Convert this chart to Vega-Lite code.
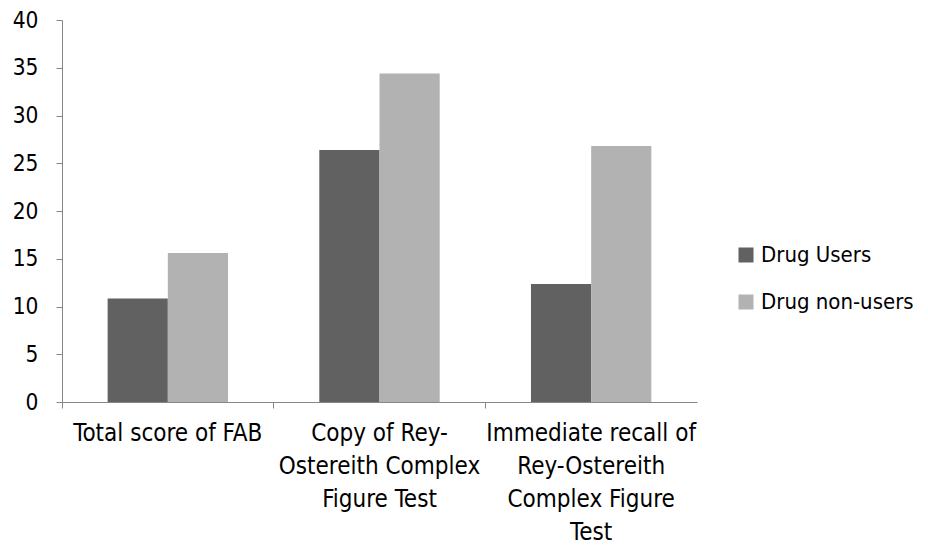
{
  "$schema": "https://vega.github.io/schema/vega-lite/v6.json",
  "width": 635,
  "height": 382,
  "autosize": {"type": "none"},
  "padding": {"left": 62, "top": 20, "right": 231, "bottom": 143},
  "background": "white",
  "config": {
    "view": {"stroke": null},
    "font": "DejaVu Sans Condensed, sans-serif"
  },
  "data": {
    "values": [
      {"test": "Total score of FAB", "group": "Drug Users", "score": 10.85},
      {"test": "Total score of FAB", "group": "Drug non-users", "score": 15.6},
      {"test": "Copy of Rey-Ostereith Complex Figure Test", "group": "Drug Users", "score": 26.4},
      {"test": "Copy of Rey-Ostereith Complex Figure Test", "group": "Drug non-users", "score": 34.4},
      {"test": "Immediate recall of Rey-Ostereith Complex Figure Test", "group": "Drug Users", "score": 12.35},
      {"test": "Immediate recall of Rey-Ostereith Complex Figure Test", "group": "Drug non-users", "score": 26.8}
    ]
  },
  "mark": {"type": "bar"},
  "encoding": {
    "x": {
      "field": "test",
      "type": "nominal",
      "sort": null,
      "title": null,
      "scale": {"paddingInner": 0, "paddingOuter": 0},
      "axis": {
        "bandPosition": 0,
        "labelAngle": 0,
        "domainColor": "#868686",
        "tickColor": "#868686",
        "tickSize": 6,
        "labelPadding": 13,
        "labelFontSize": 24,
        "labelColor": "#000000",
        "labelFont": "DejaVu Sans Condensed, sans-serif",
        "labelLineHeight": 33,
        "labelBaseline": "top",
        "labelLimit": 0,
        "labelOverlap": false,
        "labelExpr": "datum.value == 'Total score of FAB' ? ['Total score of FAB'] : datum.value == 'Copy of Rey-Ostereith Complex Figure Test' ? ['Copy of Rey-', 'Ostereith Complex', 'Figure Test'] : ['Immediate recall of', 'Rey-Ostereith', 'Complex Figure', 'Test']"
      }
    },
    "xOffset": {
      "field": "group",
      "type": "nominal",
      "sort": ["Drug Users", "Drug non-users"],
      "scale": {"paddingInner": 0, "paddingOuter": 0.758}
    },
    "y": {
      "field": "score",
      "type": "quantitative",
      "title": null,
      "scale": {"domain": [0, 40], "nice": false},
      "axis": {
        "values": [0, 5, 10, 15, 20, 25, 30, 35, 40],
        "grid": false,
        "domainColor": "#868686",
        "tickColor": "#868686",
        "tickSize": 6,
        "labelPadding": 18,
        "labelFontSize": 22.5,
        "labelColor": "#000000",
        "labelFont": "DejaVu Sans Condensed, sans-serif"
      }
    },
    "color": {
      "field": "group",
      "type": "nominal",
      "sort": ["Drug Users", "Drug non-users"],
      "scale": {"domain": ["Drug Users", "Drug non-users"], "range": ["#616161", "#b2b2b2"]},
      "legend": {
        "title": null,
        "orient": "none",
        "legendX": 673,
        "legendY": 224,
        "symbolType": "square",
        "symbolSize": 225,
        "symbolStrokeWidth": 0,
        "rowPadding": 25,
        "labelFontSize": 22,
        "labelColor": "#000000",
        "labelOffset": 4,
        "labelLimit": 0,
        "labelFont": "DejaVu Sans Condensed, sans-serif"
      }
    }
  }
}
